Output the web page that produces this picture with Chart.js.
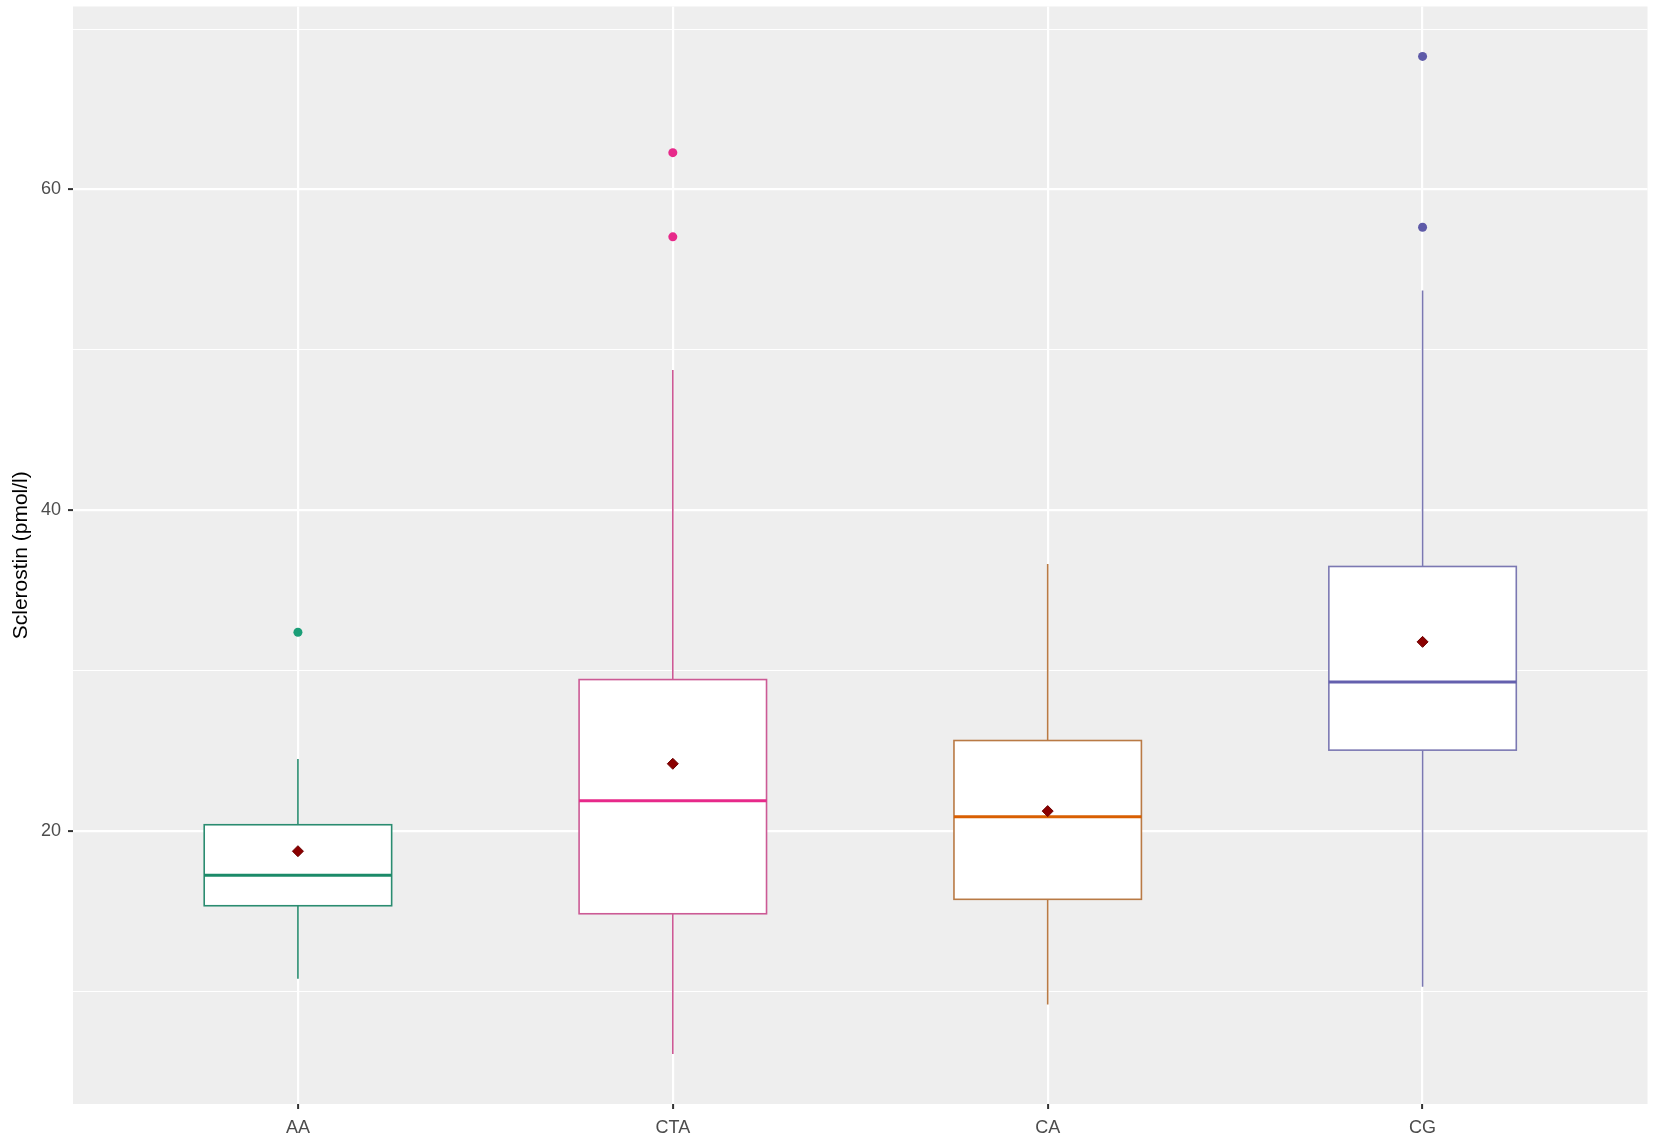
<!DOCTYPE html>
<html>
<head>
<meta charset="utf-8">
<script src="https://cdn.jsdelivr.net/npm/chart.js@4"></script>
<style>
  html, body { margin: 0; padding: 0; background: #fff; }
  #wrap { width: 1654px; height: 1140px; }
</style>
</head>
<body>
<div id="wrap"><canvas id="myChart"></canvas></div>
<script>
// values
var groups = ["AA", "CTA", "CA", "CG"];
var whiskerLow = [10.8, 6.1, 9.2, 10.3];
var q1 = [15.35, 14.85, 15.75, 25.05];
var median = [17.25, 21.9, 20.9, 29.3];
var q3 = [20.4, 29.45, 25.65, 36.5];
var whiskerHigh = [24.5, 48.75, 36.65, 53.7];
var means = [18.75, 24.2, 21.25, 31.8];
var outliers = [[32.4], [62.3, 57.05], [], [68.3, 57.65]];
var yTicks = [10, 20, 30, 40, 50, 60, 70];

var lineColors = ["#2A8C70", "#CC5A95", "#B97A45", "#7B78B2"];
var medianColors = ["#1B8A68", "#E7298A", "#D95F02", "#6460AE"];
var pointColors = ["#1B9E77", "#E7298A", "#D95F02", "#5E5AA8"];

// ggplot style 5% expansion of the y range
var allVals = whiskerLow.concat(whiskerHigh, [].concat.apply([], outliers));
var yLo = Math.min.apply(null, allVals), yHi = Math.max.apply(null, allVals);
var yPad = (yHi - yLo) * 0.05;

var datasets = [];
outliers.forEach(function(o, i) {
  datasets.push({
    data: o.map(function(v) { return {x: i + 1, y: v}; }),
    pointRadius: 4.5,
    pointBackgroundColor: pointColors[i],
    pointBorderColor: pointColors[i],
    pointBorderWidth: 0
  });
});
datasets.push({
  data: means.map(function(v, i) { return {x: i + 1, y: v}; }),
  pointStyle: 'rectRot',
  pointRadius: 5.5,
  pointBackgroundColor: "#8B0000",
  pointBorderColor: "#6E0000",
  pointBorderWidth: 1
});

var panelBg = {
  id: 'panelBg',
  beforeDraw: function(chart) {
    var a = chart.chartArea, c = chart.ctx;
    c.save();
    c.fillStyle = "#EEEEEE";
    c.fillRect(a.left, a.top, a.right - a.left, a.bottom - a.top);
    c.restore();
  }
};

var boxes = {
  id: 'boxes',
  beforeDatasetsDraw: function(chart) {
    var c = chart.ctx, xs = chart.scales.x, ys = chart.scales.y;
    c.save();
    groups.forEach(function(g, i) {
      var xc = xs.getPixelForValue(i + 1);
      var x0 = xs.getPixelForValue(i + 1 - 0.25);
      var x1 = xs.getPixelForValue(i + 1 + 0.25);
      var yq1 = ys.getPixelForValue(q1[i]), yq3 = ys.getPixelForValue(q3[i]);
      c.strokeStyle = lineColors[i];
      c.lineWidth = 1.6;
      // whiskers
      c.beginPath();
      c.moveTo(xc, ys.getPixelForValue(whiskerHigh[i]));
      c.lineTo(xc, yq3);
      c.moveTo(xc, yq1);
      c.lineTo(xc, ys.getPixelForValue(whiskerLow[i]));
      c.stroke();
      // box
      c.fillStyle = "#FFFFFF";
      c.fillRect(x0, yq3, x1 - x0, yq1 - yq3);
      c.strokeRect(x0, yq3, x1 - x0, yq1 - yq3);
      // median
      c.strokeStyle = medianColors[i];
      c.lineWidth = 3;
      c.beginPath();
      c.moveTo(x0, ys.getPixelForValue(median[i]));
      c.lineTo(x1, ys.getPixelForValue(median[i]));
      c.stroke();
    });
    c.restore();
  }
};

var ctx = document.getElementById("myChart").getContext('2d');
var myChart = new Chart(ctx, {
  type: 'scatter',
  data: { datasets: datasets },
  plugins: [panelBg, boxes],
  options: {
    responsive: true,
    maintainAspectRatio: false,
    animation: false,
    layout: { padding: { top: 5, right: 6, bottom: 0, left: 0 } },
    plugins: { legend: { display: false }, tooltip: { enabled: false } },
    scales: {
      x: {
        type: 'linear',
        min: 0.4,
        max: 4.6,
        afterBuildTicks: function(s) {
          s.ticks = groups.map(function(g, i) { return {value: i + 1}; });
        },
        afterFit: function(s) {
          s.height = 36;
          s.paddingLeft = 0;
          s.paddingRight = 0;
        },
        border: { display: false },
        grid: {
          color: "#FFFFFF",
          lineWidth: 2.2,
          drawTicks: true,
          tickLength: 5,
          tickColor: "#333333",
          tickWidth: 2
        },
        ticks: {
          padding: 8,
          maxRotation: 0,
          color: "#4D4D4D",
          font: { family: "'Liberation Sans', Arial, sans-serif", size: 18 },
          callback: function(v) { return groups[v - 1]; }
        }
      },
      y: {
        min: yLo - yPad,
        max: yHi + yPad,
        afterBuildTicks: function(s) {
          s.ticks = yTicks.map(function(v) { return {value: v}; });
        },
        afterFit: function(s) {
          s.width = 73;
          s.paddingTop = 0;
          s.paddingBottom = 0;
        },
        border: { display: false },
        grid: {
          color: "#FFFFFF",
          lineWidth: function(c) { return c.tick && c.tick.value % 20 === 0 ? 2.2 : 1.1; },
          tickLength: 5,
          tickColor: function(c) { return c.tick && c.tick.value % 20 === 0 ? "#333333" : "rgba(0,0,0,0)"; },
          tickWidth: 2
        },
        ticks: {
          padding: 7,
          color: "#4D4D4D",
          font: { family: "'Liberation Sans', Arial, sans-serif", size: 18 },
          callback: function(v) { return v % 20 === 0 ? String(v) : ''; }
        },
        title: {
          display: true,
          text: "Sclerostin (pmol/l)",
          color: "#000000",
          padding: { top: 9, bottom: 4 },
          font: { family: "'Liberation Sans', Arial, sans-serif", size: 21 }
        }
      }
    }
  }
});
</script>
</body>
</html>
